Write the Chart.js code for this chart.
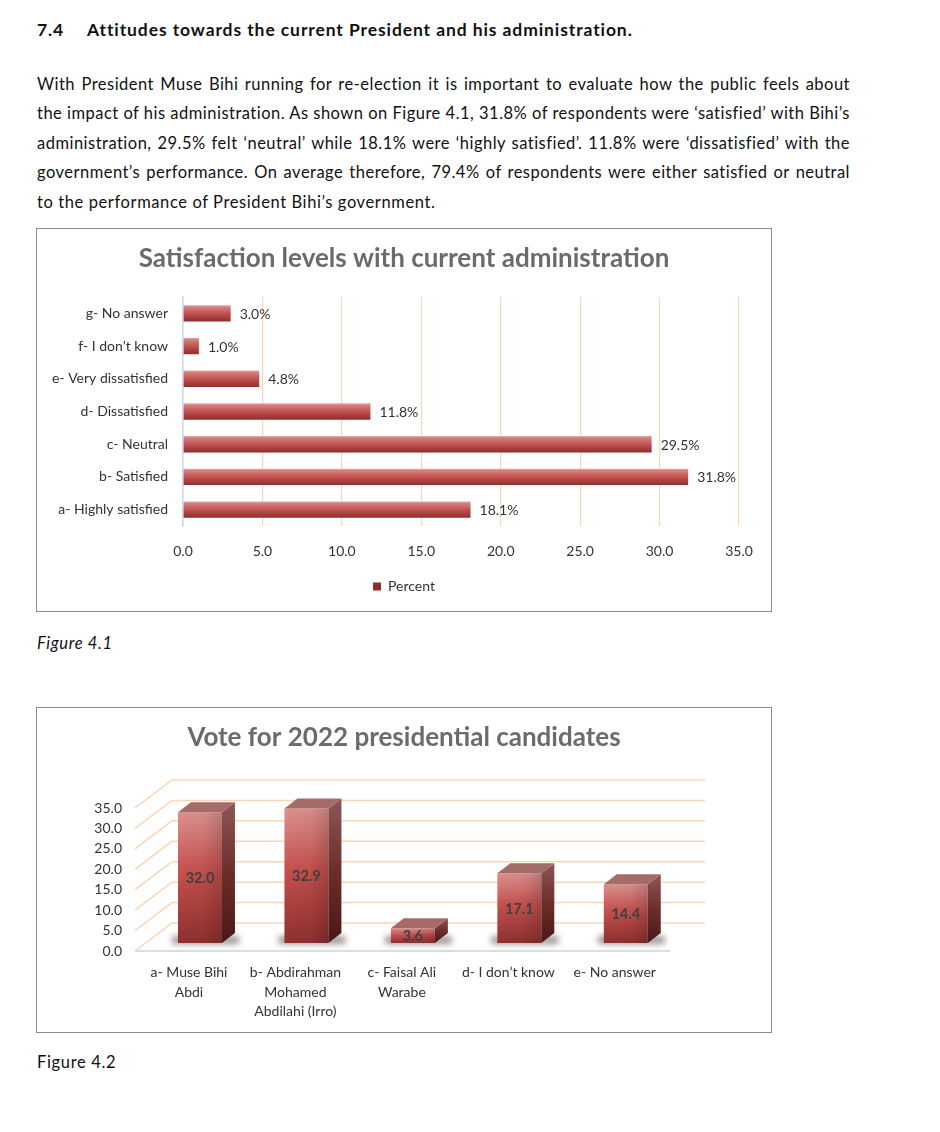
<!DOCTYPE html>
<html>
<head>
<meta charset="utf-8">
<script src="https://cdn.jsdelivr.net/npm/chart.js@4.4.1/dist/chart.umd.min.js"></script>
<style>
  body { margin: 0; background: #fff; font-family: Lato, "Open Sans", sans-serif; color: #111; }
  .page { position: relative; width: 940px; height: 1132px; }
  .abs { position: absolute; white-space: nowrap; }
  .head { font-weight: bold; font-size: 17.5px; letter-spacing: 0.9px; line-height: 20px; }
  .para { left: 37px; width: 813px; font-size: 16.5px; letter-spacing: 0.48px; line-height: 20px; }
  .just { text-align: justify; text-align-last: justify; }
  .cap { left: 37px; font-size: 16.5px; letter-spacing: 0.65px; line-height: 20px; }
  .box { position: absolute; left: 36px; width: 734px; border: 1px solid #8c8c8c; }
  .box canvas { display: block; }
</style>
</head>
<body>
<div class="page">
  <div class="abs head" style="left:37px;top:20px">7.4</div>
  <div class="abs head" style="left:87px;top:20px">Attitudes towards the current President and his administration.</div>

  <div class="abs para just" style="top:74px">With President Muse Bihi running for re-election it is important to evaluate how the public feels about</div>
  <div class="abs para just" style="top:103px">the impact of his administration. As shown on Figure 4.1, 31.8% of respondents were ‘satisfied’ with Bihi’s</div>
  <div class="abs para just" style="top:133px">administration, 29.5% felt ‘neutral’ while 18.1% were ‘highly satisfied’. 11.8% were ‘dissatisfied’ with the</div>
  <div class="abs para just" style="top:162px">government’s performance. On average therefore, 79.4% of respondents were either satisfied or neutral</div>
  <div class="abs para" style="top:192px;letter-spacing:0.6px">to the performance of President Bihi’s government.</div>

  <div class="box" style="top:228px;height:382px"><canvas id="satChart" width="734" height="382"></canvas></div>
  <div class="abs cap" style="top:633px;font-style:italic">Figure 4.1</div>

  <div class="box" style="top:707px;height:324px"><canvas id="voteChart" width="734" height="324"></canvas></div>
  <div class="abs cap" style="top:1052px">Figure 4.2</div>
</div>

<script>
// Figure 4.1
const satLabels = ["g- No answer", "f- I don’t know", "e- Very dissatisfied", "d- Dissatisfied", "c- Neutral", "b- Satisfied", "a- Highly satisfied"];
const satValues = [3.0, 1.0, 4.8, 11.8, 29.5, 31.8, 18.1];
const satMax = 35;

// Figure 4.2
const voteLabels = [["a- Muse Bihi", "Abdi"], ["b- Abdirahman", "Mohamed", "Abdilahi (Irro)"], ["c- Faisal Ali", "Warabe"], "d- I don’t know", "e- No answer"];
const voteValues = [32.0, 32.9, 3.6, 17.1, 14.4];
const voteMax = 35;

const FONT = "Lato, 'Open Sans', sans-serif";
const tickColor = "#333";
const titleColor = "#6b6b6b";

// empty axis on the right: reserves space but keeps the title centred on the canvas
const spacerAxis = (w) => ({
  type: "linear",
  position: "right",
  display: true,
  ticks: { display: false },
  grid: { display: false, drawTicks: false },
  border: { display: false },
  afterFit: (s) => { s.width = w; }
});

// ---------- horizontal bar chart ----------
const satLabelPlugin = {
  id: "satLabels",
  afterDatasetsDraw(chart) {
    const ctx = chart.ctx;
    ctx.save();
    ctx.font = "14px " + FONT;
    ctx.fillStyle = "#333";
    ctx.textBaseline = "middle";
    chart.getDatasetMeta(0).data.forEach((bar, i) => {
      ctx.fillText(satValues[i].toFixed(1) + "%", bar.x + 9, bar.y + 1);
    });
    ctx.restore();
  }
};

new Chart(document.getElementById("satChart"), {
  type: "bar",
  data: {
    labels: satLabels,
    datasets: [{
      label: "Percent",
      data: satValues,
      barPercentage: 0.5,
      categoryPercentage: 1,
      backgroundColor: (c) => {
        const chart = c.chart;
        if (!chart.chartArea || c.dataIndex === undefined) return "#b9494a";
        const yc = chart.scales.y.getPixelForValue(c.dataIndex);
        const g = chart.ctx.createLinearGradient(0, yc - 8.5, 0, yc + 8.5);
        g.addColorStop(0, "#e8b4b2");
        g.addColorStop(0.12, "#d6817e");
        g.addColorStop(0.55, "#bd4d4a");
        g.addColorStop(1, "#8c2d2b");
        return g;
      }
    }]
  },
  options: {
    indexAxis: "y",
    responsive: false,
    animation: false,
    layout: { padding: { left: 0, right: 0, top: 0, bottom: 7.5 } },
    scales: {
      x: {
        min: 0,
        max: satMax,
        ticks: { stepSize: 5, padding: 17, color: tickColor, font: { family: FONT, size: 14 }, callback: (v) => v.toFixed(1) },
        grid: { color: "#fcd5b5", lineWidth: 1.2, drawTicks: false },
        border: { display: false },
        afterFit: (s) => { s.height = 47.5; }
      },
      y: {
        ticks: { padding: 15, color: tickColor, font: { family: FONT, size: 14 } },
        grid: { display: false, drawTicks: false },
        border: { display: true, color: "#c6d9f1", width: 1.5 },
        afterFit: (s) => { s.width = 146; }
      },
      yRight: spacerAxis(32)
    },
    plugins: {
      title: {
        display: true,
        text: "Satisfaction levels with current administration",
        color: titleColor,
        font: { family: FONT, size: 26, weight: "bold" },
        padding: { top: 14.4, bottom: 22.4 }
      },
      legend: {
        position: "bottom",
        labels: { boxWidth: 8, boxHeight: 8, padding: 6, color: tickColor, font: { family: FONT, size: 14 } }
      },
      tooltip: { enabled: false }
    }
  },
  plugins: [satLabelPlugin]
});

// ---------- 3D-looking column chart ----------
const depthX = 13, depthY = -10;   // bar extrusion
const frontDrop = 8, backRise = -20; // floor edge / back wall relative to bar plane

const vote3d = {
  id: "vote3d",
  beforeDatasetsDraw(chart) {
    const ctx = chart.ctx;
    const y = chart.scales.y;
    const { left, right } = chart.chartArea;
    ctx.save();
    // back wall gridlines and side wall diagonals
    ctx.strokeStyle = "#fcd5b5";
    ctx.lineWidth = 1.5;
    for (let v = 0; v <= voteMax; v += 5) {
      const p = y.getPixelForValue(v);
      ctx.beginPath();
      ctx.moveTo(left - 11.75, p + frontDrop);
      ctx.lineTo(left + 25.25, p + backRise);
      ctx.lineTo(right + 26, p + backRise);
      ctx.stroke();
    }
    // floor front edge
    const p0 = y.getPixelForValue(0);
    ctx.strokeStyle = "#d3e0f2";
    ctx.lineWidth = 2;
    ctx.beginPath();
    ctx.moveTo(left - 11.75, p0 + frontDrop);
    ctx.lineTo(right - 9, p0 + frontDrop);
    ctx.stroke();
    // soft shadows at the foot of each column
    ctx.filter = "blur(3px)";
    ctx.fillStyle = "rgba(40,20,20,0.45)";
    chart.getDatasetMeta(0).data.forEach((bar) => {
      const w = bar.width;
      ctx.fillRect(bar.x - w / 2 - 6, bar.base - 7, w + depthX + 10, 8);
    });
    ctx.filter = "none";
    ctx.restore();
  },
  afterDatasetsDraw(chart) {
    const ctx = chart.ctx;
    ctx.save();
    chart.getDatasetMeta(0).data.forEach((bar, i) => {
      const x0 = bar.x - bar.width / 2, x1 = bar.x + bar.width / 2;
      const top = bar.y, base = bar.base;
      // darker toward the right side of the front face
      const hg = ctx.createLinearGradient(x0, 0, x1, 0);
      hg.addColorStop(0, "rgba(0,0,0,0)");
      hg.addColorStop(0.6, "rgba(0,0,0,0.03)");
      hg.addColorStop(1, "rgba(0,0,0,0.16)");
      ctx.fillStyle = hg;
      ctx.fillRect(x0, top, x1 - x0, base - top);
      // side face
      const sg = ctx.createLinearGradient(0, top + depthY, 0, base);
      sg.addColorStop(0, "#8d5755");
      sg.addColorStop(0.5, "#6c2e2c");
      sg.addColorStop(1, "#4a1816");
      ctx.fillStyle = sg;
      ctx.beginPath();
      ctx.moveTo(x1, top);
      ctx.lineTo(x1 + depthX, top + depthY);
      ctx.lineTo(x1 + depthX, base + depthY);
      ctx.lineTo(x1, base);
      ctx.closePath();
      ctx.fill();
      // top face
      ctx.fillStyle = "#a46b69";
      ctx.beginPath();
      ctx.moveTo(x0, top);
      ctx.lineTo(x0 + depthX, top + depthY);
      ctx.lineTo(x1 + depthX, top + depthY);
      ctx.lineTo(x1, top);
      ctx.closePath();
      ctx.fill();
      // value label
      ctx.font = "bold 14.5px " + FONT;
      ctx.fillStyle = "#404040";
      ctx.textAlign = "center";
      ctx.textBaseline = "middle";
      ctx.fillText(voteValues[i].toFixed(1), bar.x, (top + base) / 2 + 1);
    });
    ctx.restore();
  }
};

new Chart(document.getElementById("voteChart"), {
  type: "bar",
  data: {
    labels: voteLabels,
    datasets: [{
      label: "Percent",
      data: voteValues,
      barPercentage: 0.413,
      categoryPercentage: 1,
      backgroundColor: (c) => {
        const chart = c.chart;
        if (!chart.chartArea || c.dataIndex === undefined) return "#c0504d";
        const y = chart.scales.y;
        const t = y.getPixelForValue(voteValues[c.dataIndex]);
        const b = y.getPixelForValue(0);
        const g = chart.ctx.createLinearGradient(0, t, 0, b);
        g.addColorStop(0, "#dc918f");
        g.addColorStop(0.45, "#c5514e");
        g.addColorStop(1, "#8e302e");
        return g;
      }
    }]
  },
  options: {
    responsive: false,
    animation: false,
    layout: { padding: { left: 0, right: 0, top: 0, bottom: 0 } },
    scales: {
      x: {
        ticks: { padding: 20, labelOffset: -11, maxRotation: 0, autoSkip: false, color: tickColor, font: { family: FONT, size: 14, lineHeight: "19.5px" } },
        grid: { display: false, drawTicks: false },
        border: { display: false },
        afterFit: (s) => { s.height = 89; }
      },
      y: {
        min: 0,
        max: voteMax,
        ticks: { stepSize: 5, padding: 24.75, labelOffset: 8, color: tickColor, font: { family: FONT, size: 14 }, callback: (v) => v.toFixed(1) },
        grid: { display: false, drawTicks: false },
        border: { display: false },
        afterFit: (s) => { s.width = 109.75; }
      },
      yRight: spacerAxis(92)
    },
    plugins: {
      title: {
        display: true,
        text: "Vote for 2022 presidential candidates",
        color: titleColor,
        font: { family: FONT, size: 26, weight: "bold" },
        padding: { top: 14.4, bottom: 46.4 }
      },
      legend: { display: false },
      tooltip: { enabled: false }
    }
  },
  plugins: [vote3d]
});
</script>
</body>
</html>
